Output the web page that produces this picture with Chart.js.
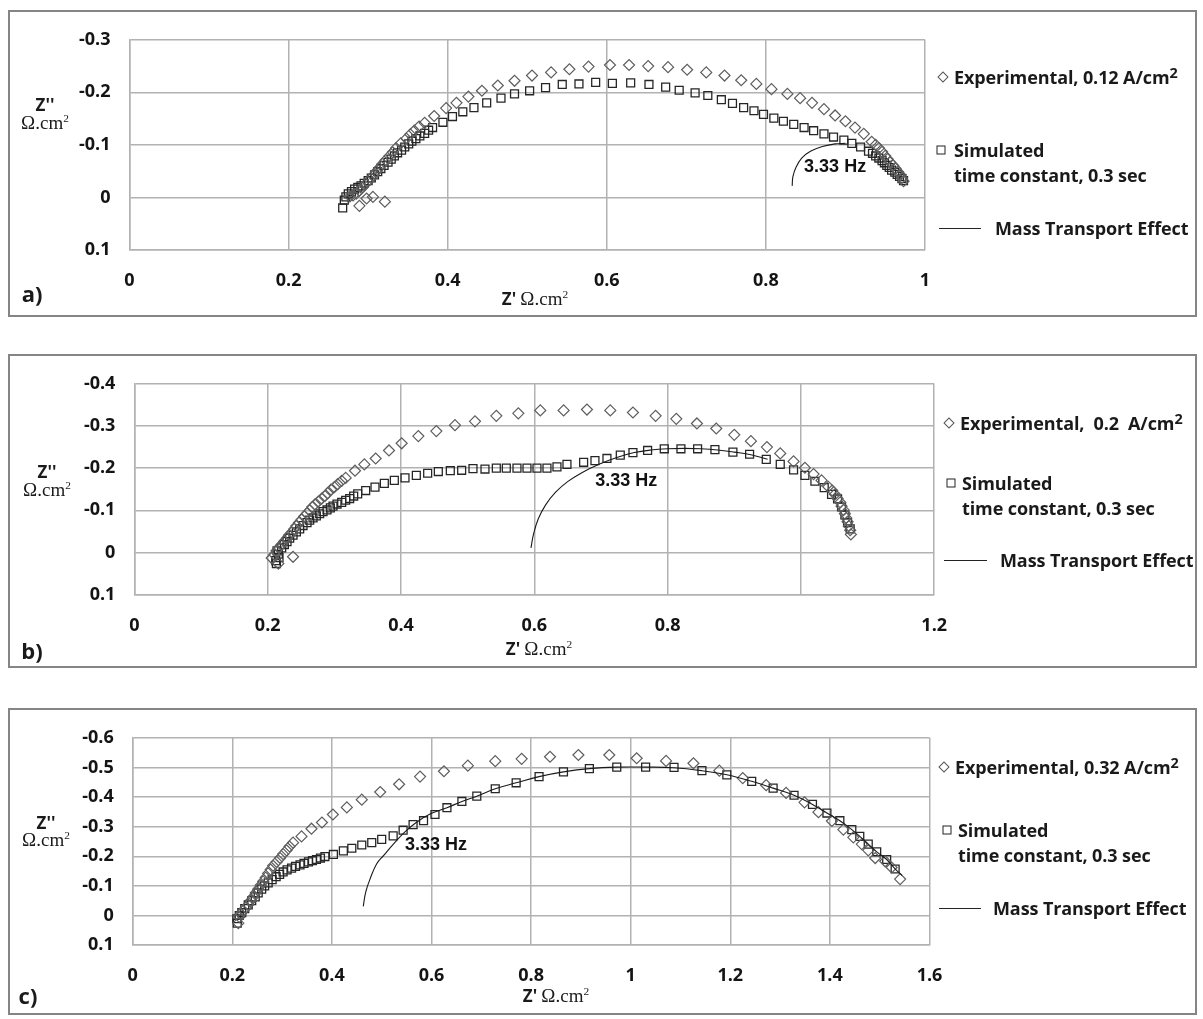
<!DOCTYPE html>
<html>
<head>
<meta charset="utf-8">
<script src="https://cdn.jsdelivr.net/npm/chart.js@4.4.0/dist/chart.umd.min.js"></script>
<style>
  html, body { margin:0; padding:0; background:#fff; }
  body { width:1203px; height:1019px; position:relative; overflow:hidden; font-family:"Open Sans", "Liberation Sans", sans-serif; color:#1a1a1a; }
  canvas { position:absolute; left:8px; }
  .frame { position:absolute; left:8px; width:1189px; border:2px solid #858585; box-sizing:border-box; pointer-events:none; }
  .t { position:absolute; white-space:pre; line-height:1; transform:translate(-50%,-50%); }
  .lg { position:absolute; white-space:pre; line-height:1; transform:translateY(-50%); font-weight:700; font-size:18px; letter-spacing:-0.1px; }
  .lg sup { font-size:0.8em; vertical-align:0.45em; line-height:0; }
  .zb { font-weight:700; font-size:17px; font-family:"Open Sans", sans-serif; }
  .om { font-family:"Liberation Serif", "DejaVu Serif", serif; font-size:19px; font-weight:400; }
  .om sup { font-size:0.6em; vertical-align:0.6em; line-height:0; }
  .pl { font-weight:700; font-size:22px; }
  .dia { position:absolute; width:6px; height:6px; border:1.2px solid #555; transform:translate(-50%,-50%) rotate(45deg); }
  .sq { position:absolute; width:7px; height:7px; border:1.3px solid #222; transform:translate(-50%,-50%); }
  .ln { position:absolute; height:0; border-top:1.3px solid #222; }
</style>
</head>
<body>
<canvas id="cA" width="1189" height="307" style="top:10px"></canvas>
<canvas id="cB" width="1189" height="314" style="top:354px"></canvas>
<canvas id="cC" width="1189" height="307" style="top:708px"></canvas>
<div class="frame" style="top:10px;height:307px"></div>
<div class="frame" style="top:354px;height:314px"></div>
<div class="frame" style="top:708px;height:307px"></div>

<!-- panel a texts -->
<div class="t zb" style="left:45px;top:104px">Z''</div>
<div class="t om" style="left:45px;top:122px">Ω.cm<sup>2</sup></div>
<div class="t" style="left:535px;top:298px"><span class="zb">Z'</span> <span class="om">Ω.cm<sup>2</sup></span></div>
<div class="t pl" style="left:32px;top:293px">a)</div>
<div class="dia" style="left:943px;top:77px"></div>
<div class="lg" style="left:954px;top:77px">Experimental, 0.12 A/cm<sup>2</sup></div>
<div class="sq" style="left:941px;top:150px"></div>
<div class="lg" style="left:954px;top:150px">Simulated</div>
<div class="lg" style="left:954px;top:175px">time constant, 0.3 sec</div>
<div class="ln" style="left:939px;top:228px;width:42px"></div>
<div class="lg" style="left:995px;top:228px">Mass Transport Effect</div>

<!-- panel b texts -->
<div class="t zb" style="left:47px;top:471px">Z''</div>
<div class="t om" style="left:47px;top:489px">Ω.cm<sup>2</sup></div>
<div class="t" style="left:539px;top:648px"><span class="zb">Z'</span> <span class="om">Ω.cm<sup>2</sup></span></div>
<div class="t pl" style="left:32px;top:650px">b)</div>
<div class="dia" style="left:949px;top:423px"></div>
<div class="lg" style="left:960px;top:423px">Experimental,  0.2  A/cm<sup>2</sup></div>
<div class="sq" style="left:951px;top:483px"></div>
<div class="lg" style="left:962px;top:483px">Simulated</div>
<div class="lg" style="left:962px;top:508px">time constant, 0.3 sec</div>
<div class="ln" style="left:944px;top:560px;width:43px"></div>
<div class="lg" style="left:1000px;top:560px">Mass Transport Effect</div>

<!-- panel c texts -->
<div class="t zb" style="left:46px;top:822px">Z''</div>
<div class="t om" style="left:46px;top:839px">Ω.cm<sup>2</sup></div>
<div class="t" style="left:556px;top:995px"><span class="zb">Z'</span> <span class="om">Ω.cm<sup>2</sup></span></div>
<div class="t pl" style="left:28px;top:995px">c)</div>
<div class="dia" style="left:944px;top:767px"></div>
<div class="lg" style="left:955px;top:767px">Experimental, 0.32 A/cm<sup>2</sup></div>
<div class="sq" style="left:947px;top:830px"></div>
<div class="lg" style="left:958px;top:830px">Simulated</div>
<div class="lg" style="left:958px;top:855px">time constant, 0.3 sec</div>
<div class="ln" style="left:939px;top:908px;width:42px"></div>
<div class="lg" style="left:993px;top:908px">Mass Transport Effect</div>

<script>
// ---------- Panel a (0.12 A/cm2) ----------
const aExpRe = [0.289,0.298,0.306,0.321,0.277,0.285,0.293,0.302,0.310,0.318,0.327,0.335,0.348,0.358,0.371,0.383,0.398,0.411,0.426,0.443,0.463,0.484,0.506,0.530,0.553,0.577,0.604,0.628,0.652,0.677,0.701,0.725,0.748,0.769,0.788,0.807,0.827,0.843,0.858,0.873,0.887,0.900,0.912,0.923,0.933,0.942,0.950,0.956,0.963,0.969,0.973,
                0.281,0.289,0.297,0.306,0.314,0.322,0.331,0.341,0.353,0.364,0.938,0.946,0.953,0.960,0.966,0.971];
const aExpIm = [0.016,0.002,-0.001,0.008,-0.002,-0.007,-0.019,-0.034,-0.049,-0.064,-0.079,-0.094,-0.112,-0.127,-0.142,-0.155,-0.170,-0.180,-0.192,-0.203,-0.213,-0.222,-0.232,-0.238,-0.244,-0.249,-0.252,-0.252,-0.250,-0.248,-0.243,-0.238,-0.232,-0.223,-0.216,-0.206,-0.197,-0.189,-0.180,-0.168,-0.156,-0.145,-0.133,-0.121,-0.106,-0.094,-0.079,-0.067,-0.055,-0.043,-0.031,
                -0.004,-0.013,-0.026,-0.041,-0.056,-0.071,-0.086,-0.103,-0.120,-0.135,-0.100,-0.087,-0.073,-0.061,-0.049,-0.037];
const aSimRe = [0.268,0.270,0.275,0.283,0.291,0.300,0.308,0.316,0.325,0.333,0.342,0.351,0.360,0.371,0.381,0.394,0.406,0.419,0.433,0.449,0.467,0.484,0.503,0.523,0.544,0.565,0.586,0.607,0.630,0.653,0.674,0.691,0.711,0.727,0.744,0.758,0.772,0.785,0.797,0.810,0.822,0.835,0.848,0.860,0.873,0.885,0.898,0.908,0.919,0.929,0.938,0.946,0.952,0.958,0.965,0.971,
                0.272,0.279,0.287,0.295,0.304,0.312,0.320,0.329,0.337,0.346,0.355,0.365,0.376,0.934,0.942,0.949,0.955,0.962,0.968,0.973];
const aSimIm = [0.020,0.005,-0.007,-0.016,-0.022,-0.032,-0.043,-0.055,-0.067,-0.079,-0.090,-0.102,-0.112,-0.122,-0.133,-0.143,-0.154,-0.163,-0.171,-0.180,-0.189,-0.197,-0.203,-0.209,-0.215,-0.216,-0.219,-0.217,-0.218,-0.215,-0.210,-0.204,-0.199,-0.194,-0.186,-0.179,-0.171,-0.165,-0.158,-0.151,-0.145,-0.139,-0.133,-0.127,-0.121,-0.115,-0.109,-0.103,-0.096,-0.088,-0.079,-0.070,-0.061,-0.052,-0.044,-0.036,
                -0.001,-0.011,-0.019,-0.027,-0.037,-0.049,-0.061,-0.073,-0.085,-0.096,-0.107,-0.117,-0.128,-0.084,-0.075,-0.066,-0.057,-0.048,-0.040,-0.032];
const aMtRe = [0.833,0.834,0.838,0.845,0.856,0.871,0.887,0.900];
const aMtIm = [-0.022,-0.040,-0.058,-0.075,-0.088,-0.097,-0.102,-0.103];
const aXTicks = [0, 0.2, 0.4, 0.6, 0.8, 1];
const aYTicks = [-0.3, -0.2, -0.1, 0, 0.1];

// ---------- Panel b (0.2 A/cm2) ----------
const bExpRe = [0.216,0.206,0.238,0.213,0.221,0.229,0.236,0.243,0.251,0.259,0.267,0.276,0.286,0.295,0.305,0.317,0.331,0.345,0.362,0.382,0.401,0.426,0.453,0.481,0.511,0.543,0.576,0.609,0.644,0.679,0.714,0.748,0.782,0.813,0.844,0.873,0.900,0.925,0.949,0.969,0.989,1.006,1.019,1.031,1.041,1.051,1.059,1.064,1.068,1.072,1.075,
                0.210,0.217,0.225,0.232,0.240,0.247,0.255,0.263,0.271,0.281,0.290,0.300,0.311,1.047,1.055,1.061,1.066,1.070,1.074];
const bExpIm = [0.026,0.013,0.010,-0.004,-0.019,-0.034,-0.048,-0.063,-0.078,-0.093,-0.108,-0.121,-0.134,-0.149,-0.162,-0.177,-0.194,-0.209,-0.223,-0.242,-0.259,-0.276,-0.288,-0.302,-0.311,-0.324,-0.330,-0.337,-0.337,-0.339,-0.337,-0.332,-0.324,-0.317,-0.306,-0.294,-0.279,-0.264,-0.250,-0.235,-0.216,-0.201,-0.186,-0.171,-0.156,-0.138,-0.119,-0.101,-0.082,-0.063,-0.043,
                0.005,-0.012,-0.027,-0.041,-0.056,-0.071,-0.086,-0.100,-0.114,-0.128,-0.141,-0.155,-0.170,-0.147,-0.128,-0.110,-0.092,-0.073,-0.053];
const bSimRe = [0.213,0.212,0.216,0.221,0.229,0.238,0.248,0.259,0.268,0.278,0.289,0.298,0.311,0.323,0.335,0.347,0.361,0.375,0.390,0.406,0.423,0.440,0.456,0.474,0.491,0.508,0.526,0.543,0.558,0.574,0.589,0.604,0.619,0.634,0.649,0.674,0.691,0.709,0.729,0.748,0.770,0.795,0.820,0.845,0.871,0.898,0.923,0.948,0.969,0.989,1.006,1.021,1.035,1.046,1.055,1.061,1.066,1.070,1.074,
                0.214,0.217,0.225,0.233,0.243,0.253,0.263,0.273,0.283,0.294,0.304,0.317,0.329];
const bSimIm = [0.026,0.019,0.004,-0.011,-0.026,-0.041,-0.056,-0.071,-0.082,-0.092,-0.101,-0.110,-0.119,-0.128,-0.139,-0.147,-0.155,-0.164,-0.171,-0.177,-0.183,-0.188,-0.192,-0.194,-0.195,-0.199,-0.198,-0.200,-0.200,-0.200,-0.200,-0.200,-0.200,-0.203,-0.209,-0.214,-0.218,-0.223,-0.231,-0.237,-0.242,-0.246,-0.246,-0.246,-0.244,-0.238,-0.233,-0.221,-0.209,-0.196,-0.183,-0.169,-0.154,-0.138,-0.127,-0.108,-0.089,-0.071,-0.056,
                -0.004,0.012,-0.019,-0.034,-0.049,-0.064,-0.077,-0.087,-0.097,-0.106,-0.115,-0.124,-0.134];
const bMtRe = [0.595,0.599,0.606,0.617,0.632,0.650,0.672,0.698,0.725,0.750,0.775,0.800,0.825,0.850,0.875,0.900,0.925,0.950];
const bMtIm = [-0.011,-0.045,-0.080,-0.113,-0.143,-0.168,-0.190,-0.210,-0.226,-0.237,-0.243,-0.246,-0.247,-0.246,-0.243,-0.238,-0.232,-0.221];
const bXTicks = [0, 0.2, 0.4, 0.6, 0.8, 1.2];   // the "1" label is absent in the original
const bYTicks = [-0.4, -0.3, -0.2, -0.1, 0, 0.1];

// ---------- Panel c (0.32 A/cm2) ----------
const cExpRe = [0.212,0.214,0.222,0.232,0.242,0.252,0.262,0.272,0.282,0.296,0.309,0.322,0.339,0.359,0.380,0.402,0.430,0.460,0.497,0.535,0.577,0.625,0.673,0.728,0.781,0.838,0.895,0.957,1.012,1.071,1.126,1.178,1.225,1.272,1.312,1.349,1.377,1.404,1.427,1.447,1.464,1.477,1.491,1.511,1.524,1.541,
                0.217,0.227,0.237,0.247,0.257,0.267,0.277,0.289,0.302,0.315];
const cExpIm = [0.026,0.005,-0.016,-0.036,-0.063,-0.089,-0.115,-0.142,-0.168,-0.194,-0.220,-0.246,-0.267,-0.293,-0.314,-0.341,-0.365,-0.391,-0.417,-0.443,-0.469,-0.487,-0.506,-0.521,-0.529,-0.536,-0.542,-0.542,-0.531,-0.522,-0.514,-0.489,-0.464,-0.440,-0.414,-0.382,-0.349,-0.319,-0.290,-0.264,-0.241,-0.220,-0.194,-0.183,-0.162,-0.123,
                -0.006,-0.026,-0.050,-0.076,-0.102,-0.128,-0.155,-0.181,-0.207,-0.233];
const cSimRe = [0.210,0.209,0.219,0.232,0.246,0.259,0.272,0.288,0.302,0.319,0.336,0.353,0.369,0.386,0.403,0.423,0.440,0.460,0.480,0.500,0.523,0.543,0.563,0.584,0.607,0.631,0.661,0.691,0.728,0.770,0.816,0.865,0.917,0.972,1.030,1.087,1.143,1.193,1.243,1.286,1.328,1.365,1.394,1.420,1.444,1.460,1.477,1.494,1.514,1.531,
                0.214,0.225,0.239,0.252,0.265,0.280,0.295,0.310,0.327,0.344,0.361,0.377];
const cSimIm = [0.026,0.011,-0.010,-0.036,-0.063,-0.089,-0.110,-0.131,-0.147,-0.160,-0.171,-0.181,-0.189,-0.199,-0.206,-0.218,-0.227,-0.238,-0.246,-0.257,-0.269,-0.288,-0.307,-0.320,-0.341,-0.364,-0.385,-0.403,-0.428,-0.448,-0.469,-0.485,-0.496,-0.501,-0.501,-0.500,-0.489,-0.475,-0.453,-0.430,-0.406,-0.375,-0.346,-0.320,-0.290,-0.267,-0.241,-0.215,-0.189,-0.157,
                0.000,-0.023,-0.050,-0.076,-0.100,-0.121,-0.139,-0.154,-0.166,-0.176,-0.185,-0.194];
const cMtRe = [0.463,0.468,0.477,0.490,0.505,0.523,0.545,0.570,0.600,0.631,0.661,0.691,0.728,0.770,0.816,0.865,0.917,0.972,1.030,1.087,1.143,1.193,1.243,1.286,1.328,1.365,1.394,1.420,1.444,1.460,1.477,1.494,1.514,1.531,1.545];
const cMtIm = [-0.031,-0.080,-0.125,-0.175,-0.205,-0.240,-0.280,-0.315,-0.345,-0.364,-0.385,-0.403,-0.428,-0.448,-0.469,-0.485,-0.496,-0.501,-0.501,-0.499,-0.489,-0.475,-0.453,-0.430,-0.406,-0.375,-0.346,-0.320,-0.290,-0.267,-0.241,-0.215,-0.189,-0.157,-0.135];
const cXTicks = [0, 0.2, 0.4, 0.6, 0.8, 1, 1.2, 1.4, 1.6];
const cYTicks = [-0.6, -0.5, -0.4, -0.3, -0.2, -0.1, 0, 0.1];

// "3.33 Hz" annotation positions (data coordinates)
const hzA = [0.887, -0.058];
const hzB = [0.738, -0.170];
const hzC = [0.609, -0.238];

const GRID = '#b2b2b2';
const TICK_FONT = { family: '"Open Sans", "Liberation Sans", sans-serif', size: 18, weight: 'bold' };

const hzPlugin = {
  id: 'hzLabel',
  afterDatasetsDraw(chart, args, opts) {
    if (!opts || opts.text == null) return;
    const { ctx, scales: { x, y } } = chart;
    ctx.save();
    ctx.font = 'bold 18px "Liberation Sans", Arial, sans-serif';
    ctx.fillStyle = '#111';
    ctx.textAlign = 'center';
    ctx.textBaseline = 'middle';
    ctx.fillText(opts.text, x.getPixelForValue(opts.pos[0]), y.getPixelForValue(opts.pos[1]));
    ctx.restore();
  }
};
Chart.register(hzPlugin);

function pts(xs, ys) { return xs.map((v, i) => ({ x: v, y: ys[i] })); }
function fmt(v) {
  const r = Math.round(v * 10) / 10;
  return Math.abs(r) < 1e-9 ? '0' : String(r);
}

function makePanel(id, c) {
  new Chart(document.getElementById(id), {
    type: 'scatter',
    data: {
      datasets: [
        { label: 'Mass Transport Effect', data: pts(c.mtRe, c.mtIm), showLine: true, pointRadius: 0,
          borderColor: '#1a1a1a', borderWidth: 1.1, tension: 0.4, fill: false },
        { label: 'Experimental', data: pts(c.expRe, c.expIm), pointStyle: 'rectRot', pointRadius: 5.5,
          borderColor: '#5e5e5e', backgroundColor: 'rgba(0,0,0,0)', borderWidth: 1.2 },
        { label: 'Simulated', data: pts(c.simRe, c.simIm), pointStyle: 'rect', pointRadius: 5.6,
          borderColor: '#262626', backgroundColor: 'rgba(0,0,0,0)', borderWidth: 1.3 }
      ]
    },
    options: {
      responsive: false,
      animation: false,
      devicePixelRatio: 1,
      layout: { padding: { left: 0, right: c.padR, top: c.padT, bottom: 0 } },
      plugins: {
        legend: { display: false },
        tooltip: { enabled: false },
        hzLabel: { text: '3.33 Hz', pos: c.hz }
      },
      scales: {
        x: {
          type: 'linear', min: c.xTicks[0], max: c.xTicks[c.xTicks.length - 1],
          afterBuildTicks: s => { s.ticks = c.xAll.map(v => ({ value: v })); },
          afterFit: s => { s.height = c.xH; },
          ticks: { font: TICK_FONT, color: '#141414', padding: 20, maxRotation: 0, autoSkip: false,
                   callback: v => (c.xTicks.some(t => Math.abs(t - v) < 1e-9) ? fmt(v) : '') },
          grid: { color: GRID, lineWidth: 1.5, drawTicks: false },
          border: { color: GRID, width: 1.5 }
        },
        y: {
          type: 'linear', reverse: true, min: c.yTicks[0], max: c.yTicks[c.yTicks.length - 1],
          afterBuildTicks: s => { s.ticks = c.yTicks.map(v => ({ value: v })); },
          afterFit: s => { s.width = c.yW; },
          ticks: { font: TICK_FONT, color: '#141414', padding: 19, autoSkip: false, callback: v => fmt(v) },
          grid: { color: GRID, lineWidth: 1.5, drawTicks: false },
          border: { color: GRID, width: 1.5 }
        }
      }
    }
  });
}

makePanel('cA', { expRe: aExpRe, expIm: aExpIm, simRe: aSimRe, simIm: aSimIm, mtRe: aMtRe, mtIm: aMtIm,
  xTicks: aXTicks, xAll: [0, 0.2, 0.4, 0.6, 0.8, 1], yTicks: aYTicks, hz: hzA,
  padR: 272, padT: 17, yW: 121.5, xH: 67 });
makePanel('cB', { expRe: bExpRe, expIm: bExpIm, simRe: bSimRe, simIm: bSimIm, mtRe: bMtRe, mtIm: bMtIm,
  xTicks: bXTicks, xAll: [0, 0.2, 0.4, 0.6, 0.8, 1, 1.2], yTicks: bYTicks, hz: hzB,
  padR: 262.8, padT: 17, yW: 126.4, xH: 73.25 });
makePanel('cC', { expRe: cExpRe, expIm: cExpIm, simRe: cSimRe, simIm: cSimIm, mtRe: cMtRe, mtIm: cMtIm,
  xTicks: cXTicks, xAll: cXTicks, yTicks: cYTicks, hz: hzC,
  padR: 267.5, padT: 14.5, yW: 124.7, xH: 69.9 });
</script>
</body>
</html>
